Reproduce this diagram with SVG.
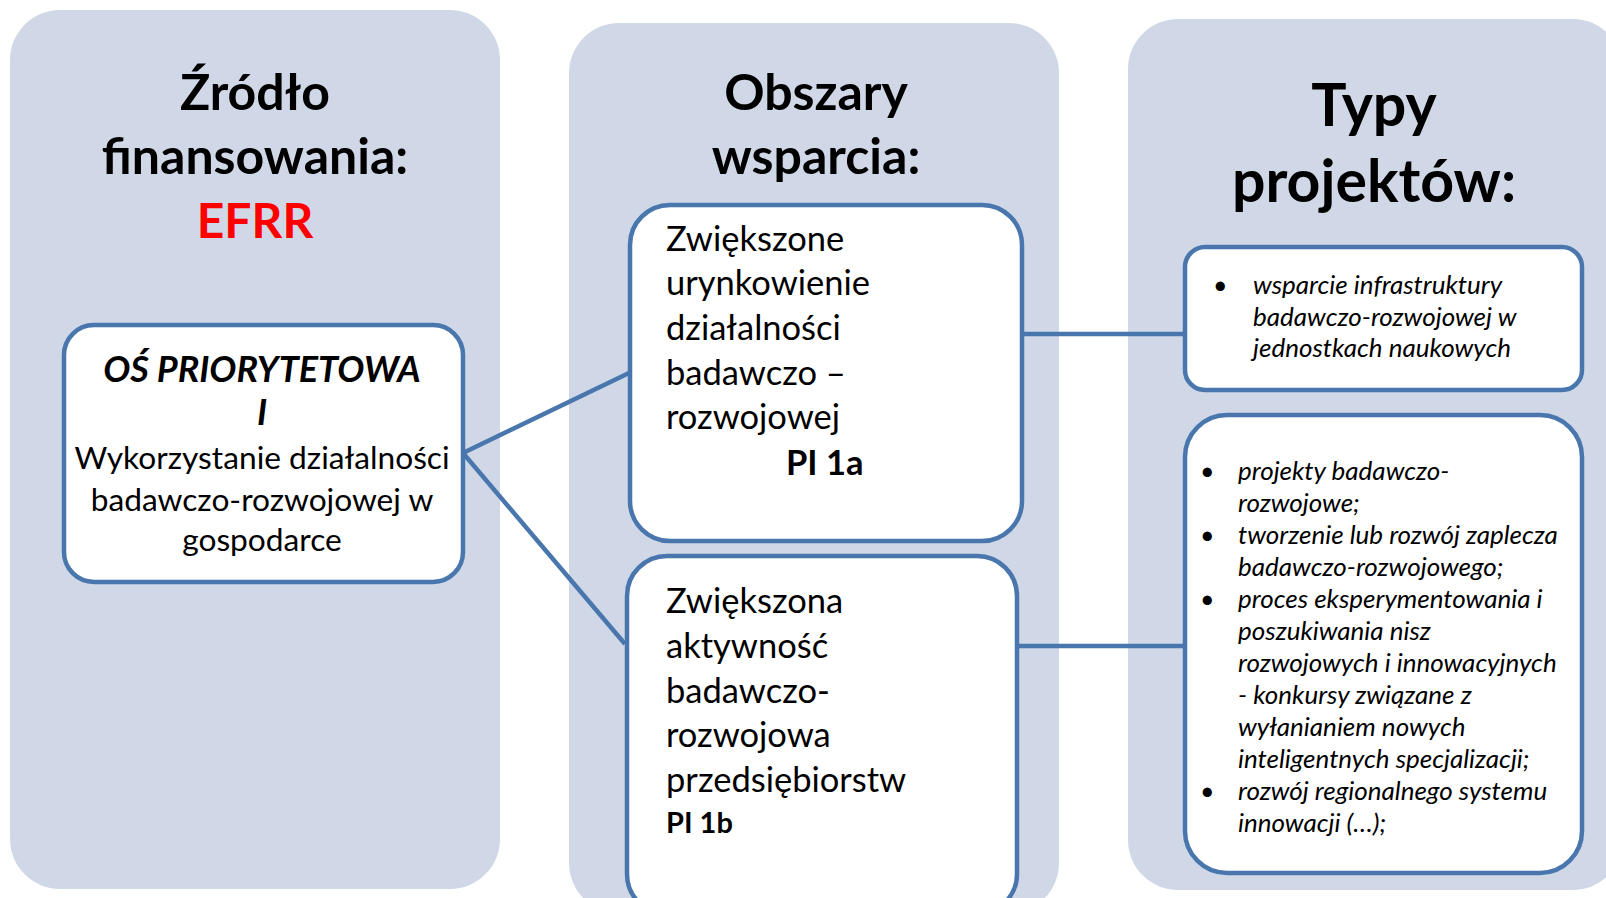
<svg xmlns="http://www.w3.org/2000/svg" width="1606" height="898" viewBox="0 0 1606 898">
<style>
.panel{fill:#D0D8E7;}
.box{fill:#FFFFFF;stroke:#4A76AE;stroke-width:4.5;}
.conn{stroke:#4A76AE;stroke-width:4.5;fill:none;}
text{font-family:Lato,"Liberation Sans",sans-serif;fill:#000;}
.title{font-weight:bold;font-size:50px;text-anchor:middle;}
.title3{font-weight:bold;font-size:59px;text-anchor:middle;}
.body{font-size:34.5px;}
.osb{font-size:31.7px;text-anchor:middle;}
.ost{font-size:36px;font-weight:bold;font-style:italic;text-anchor:middle;}
.item{font-size:26px;font-style:italic;}
.bul{font-size:25px;}
</style>
<g id="panel-zrodlo">
<rect class="panel" x="10" y="10" width="490" height="879" rx="50"/>
<text class="title" x="255" y="110">Źródło</text>
<text class="title" x="255" y="174">finansowania:</text>
<text class="title" x="255" y="238" style="fill:#FF0000;font-size:48px">EFRR</text>
</g>
<g id="panel-obszary">
<rect class="panel" x="569" y="23" width="490" height="890" rx="50"/>
<text class="title" x="816" y="110">Obszary</text>
<text class="title" x="816" y="174">wsparcia:</text>
</g>
<g id="panel-typy">
<rect class="panel" x="1128" y="19" width="495" height="871" rx="50"/>
<text class="title3" x="1374" y="126">Typy</text>
<text class="title3" x="1374" y="202">projektów:</text>
</g>
<g id="connectors">
<line class="conn" x1="463" y1="453" x2="629" y2="373"/>
<line class="conn" x1="463" y1="453" x2="625" y2="644"/>
<line class="conn" x1="1018" y1="334" x2="1185" y2="334"/>
<line class="conn" x1="1015" y1="646" x2="1185" y2="646"/>
</g>
<g id="node-os">
<rect class="box" x="64" y="325" width="399" height="257" rx="30"/>
<text class="ost" x="262" y="382">OŚ PRIORYTETOWA</text>
<text class="ost" x="262" y="425">I</text>
<text class="osb" x="262" y="469">Wykorzystanie działalności</text>
<text class="osb" x="262" y="511">badawczo-rozwojowej w</text>
<text class="osb" x="262" y="551">gospodarce</text>
</g>
<g id="node-pi1a">
<rect class="box" x="630" y="205" width="392" height="336" rx="40"/>
<text class="body" x="666" y="251">Zwiększone</text>
<text class="body" x="666" y="295">urynkowienie</text>
<text class="body" x="666" y="340">działalności</text>
<text class="body" x="666" y="385">badawczo –</text>
<text class="body" x="666" y="429">rozwojowej</text>
<text class="body" x="786" y="475" style="font-weight:bold">PI 1a</text>
</g>
<g id="node-pi1b">
<rect class="box" x="627" y="556" width="390" height="358" rx="40"/>
<text class="body" x="666" y="613">Zwiększona</text>
<text class="body" x="666" y="658">aktywność</text>
<text class="body" x="666" y="703">badawczo-</text>
<text class="body" x="666" y="747">rozwojowa</text>
<text class="body" x="666" y="792">przedsiębiorstw</text>
<text class="body" x="666" y="833" style="font-weight:bold;font-size:29px">PI 1b</text>
</g>
<g id="node-infra">
<rect class="box" x="1185" y="247" width="397" height="143" rx="20"/>
<text class="bul" x="1213" y="294">•</text>
<text class="item" x="1253" y="294">wsparcie infrastruktury</text>
<text class="item" x="1253" y="326">badawczo-rozwojowej w</text>
<text class="item" x="1253" y="357">jednostkach naukowych</text>
</g>
<g id="node-projekty">
<rect class="box" x="1185" y="415" width="397" height="458" rx="42"/>
<text class="bul" x="1200" y="480">•</text>
<text class="item" x="1238" y="480">projekty badawczo-</text>
<text class="item" x="1238" y="512">rozwojowe;</text>
<text class="bul" x="1200" y="544">•</text>
<text class="item" x="1238" y="544">tworzenie lub rozwój zaplecza</text>
<text class="item" x="1238" y="576">badawczo-rozwojowego;</text>
<text class="bul" x="1200" y="608">•</text>
<text class="item" x="1238" y="608">proces eksperymentowania i</text>
<text class="item" x="1238" y="640">poszukiwania nisz</text>
<text class="item" x="1238" y="672">rozwojowych i innowacyjnych</text>
<text class="item" x="1238" y="704">- konkursy związane z</text>
<text class="item" x="1238" y="736">wyłanianiem nowych</text>
<text class="item" x="1238" y="768">inteligentnych specjalizacji;</text>
<text class="bul" x="1200" y="800">•</text>
<text class="item" x="1238" y="800">rozwój regionalnego systemu</text>
<text class="item" x="1238" y="832">innowacji (…);</text>
</g>
</svg>
